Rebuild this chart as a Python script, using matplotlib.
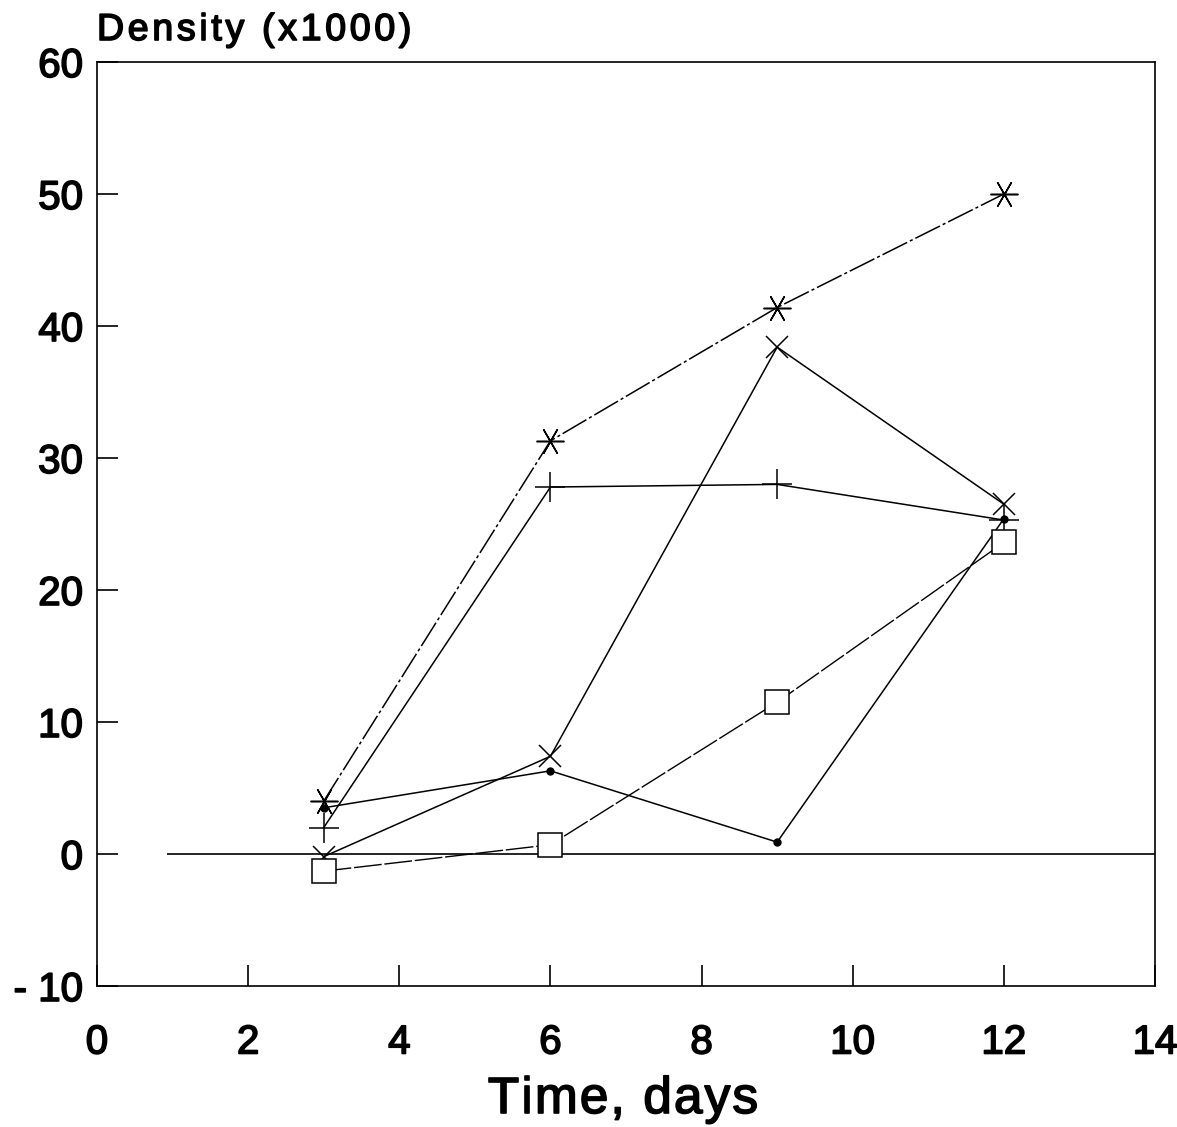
import matplotlib
matplotlib.use("Agg")
import matplotlib.pyplot as plt
import matplotlib.patheffects as pe
from matplotlib.font_manager import FontProperties
from matplotlib.textpath import TextToPath

days = [3, 6, 9, 12]

star_series = [4.0, 31.3, 41.4, 50.0]
plus_series = [2.0, 27.8, 28.0, 25.3]
cross_series = [-0.2, 7.4, 38.4, 26.5]
dot_series = [3.5, 6.3, 0.9, 25.4]
square_series = [-1.3, 0.7, 11.5, 23.6]

x_ticks = [0, 2, 4, 6, 8, 10, 12, 14]
y_ticks = [-10, 0, 10, 20, 30, 40, 50, 60]
y_tick_labels = ["- 10", "0", "10", "20", "30", "40", "50", "60"]

W, H, DPI = 1177, 1127, 100

plt.rcParams["font.family"] = ["Liberation Sans", "DejaVu Sans"]

# scanned text looks a little heavier than regular weight
thick = [pe.withStroke(linewidth=1.2, foreground="black")]


def spaced_text(fig, x_px, y_px, s, size, track_px, ha="left"):
    """Text with extra letter spacing, placed by pixel position of its baseline."""
    prop = FontProperties(family="Liberation Sans", size=size)
    ttp = TextToPath()
    widths = [ttp.get_text_width_height_descent(c, prop, ismath=False)[0] * DPI / 72
              for c in s]
    total = sum(widths) + track_px * (len(s) - 1)
    x = x_px - total / 2 if ha == "center" else x_px
    for c, w in zip(s, widths):
        fig.text(x / W, 1 - y_px / H, c, fontproperties=prop, ha="left",
                 va="baseline", path_effects=thick)
        x += w + track_px


fig = plt.figure(figsize=(W / DPI, H / DPI), dpi=DPI)
ax = fig.add_axes([97 / W, 1 - 986 / H, (1155 - 97) / W, (986 - 62) / H])

ax.hlines(0, 0.93, 14, color="black", linewidth=1.2)

ax.plot(days, star_series, color="black", linewidth=1.1, linestyle=(0, (18, 2, 2, 2)),
        marker=(6, 2, 90), markersize=20, markeredgewidth=1.1)
ax.plot(days, plus_series, color="black", linewidth=1.1,
        marker="+", markersize=22, markeredgewidth=1.1)
ax.plot(days, cross_series, color="black", linewidth=1.1,
        marker="x", markersize=16, markeredgewidth=1.1)
ax.plot(days, dot_series, color="black", linewidth=1.1,
        marker="o", markersize=5)
ax.plot(days, square_series, color="black", linewidth=1.0, linestyle=(0, (20, 2)),
        marker="s", markersize=17, markerfacecolor="white", markeredgewidth=1.1)

ax.set_xlim(0, 14)
ax.set_ylim(-10, 60)
ax.set_xticks(x_ticks)
ax.set_yticks(y_ticks)
ax.set_yticklabels(y_tick_labels)
ax.tick_params(direction="in", length=15, width=1.2, labelsize=29, pad=10)
ax.tick_params(axis="x", pad=27)
for lab in ax.get_xticklabels() + ax.get_yticklabels():
    lab.set_path_effects(thick)
for s in ax.spines.values():
    s.set_linewidth(1.2)

spaced_text(fig, 623, 1113, "Time, days", 37, 2.1, ha="center")
spaced_text(fig, 97, 40, "Density (x1000)", 27, 3.7)

fig.savefig("out.png", dpi=DPI)
